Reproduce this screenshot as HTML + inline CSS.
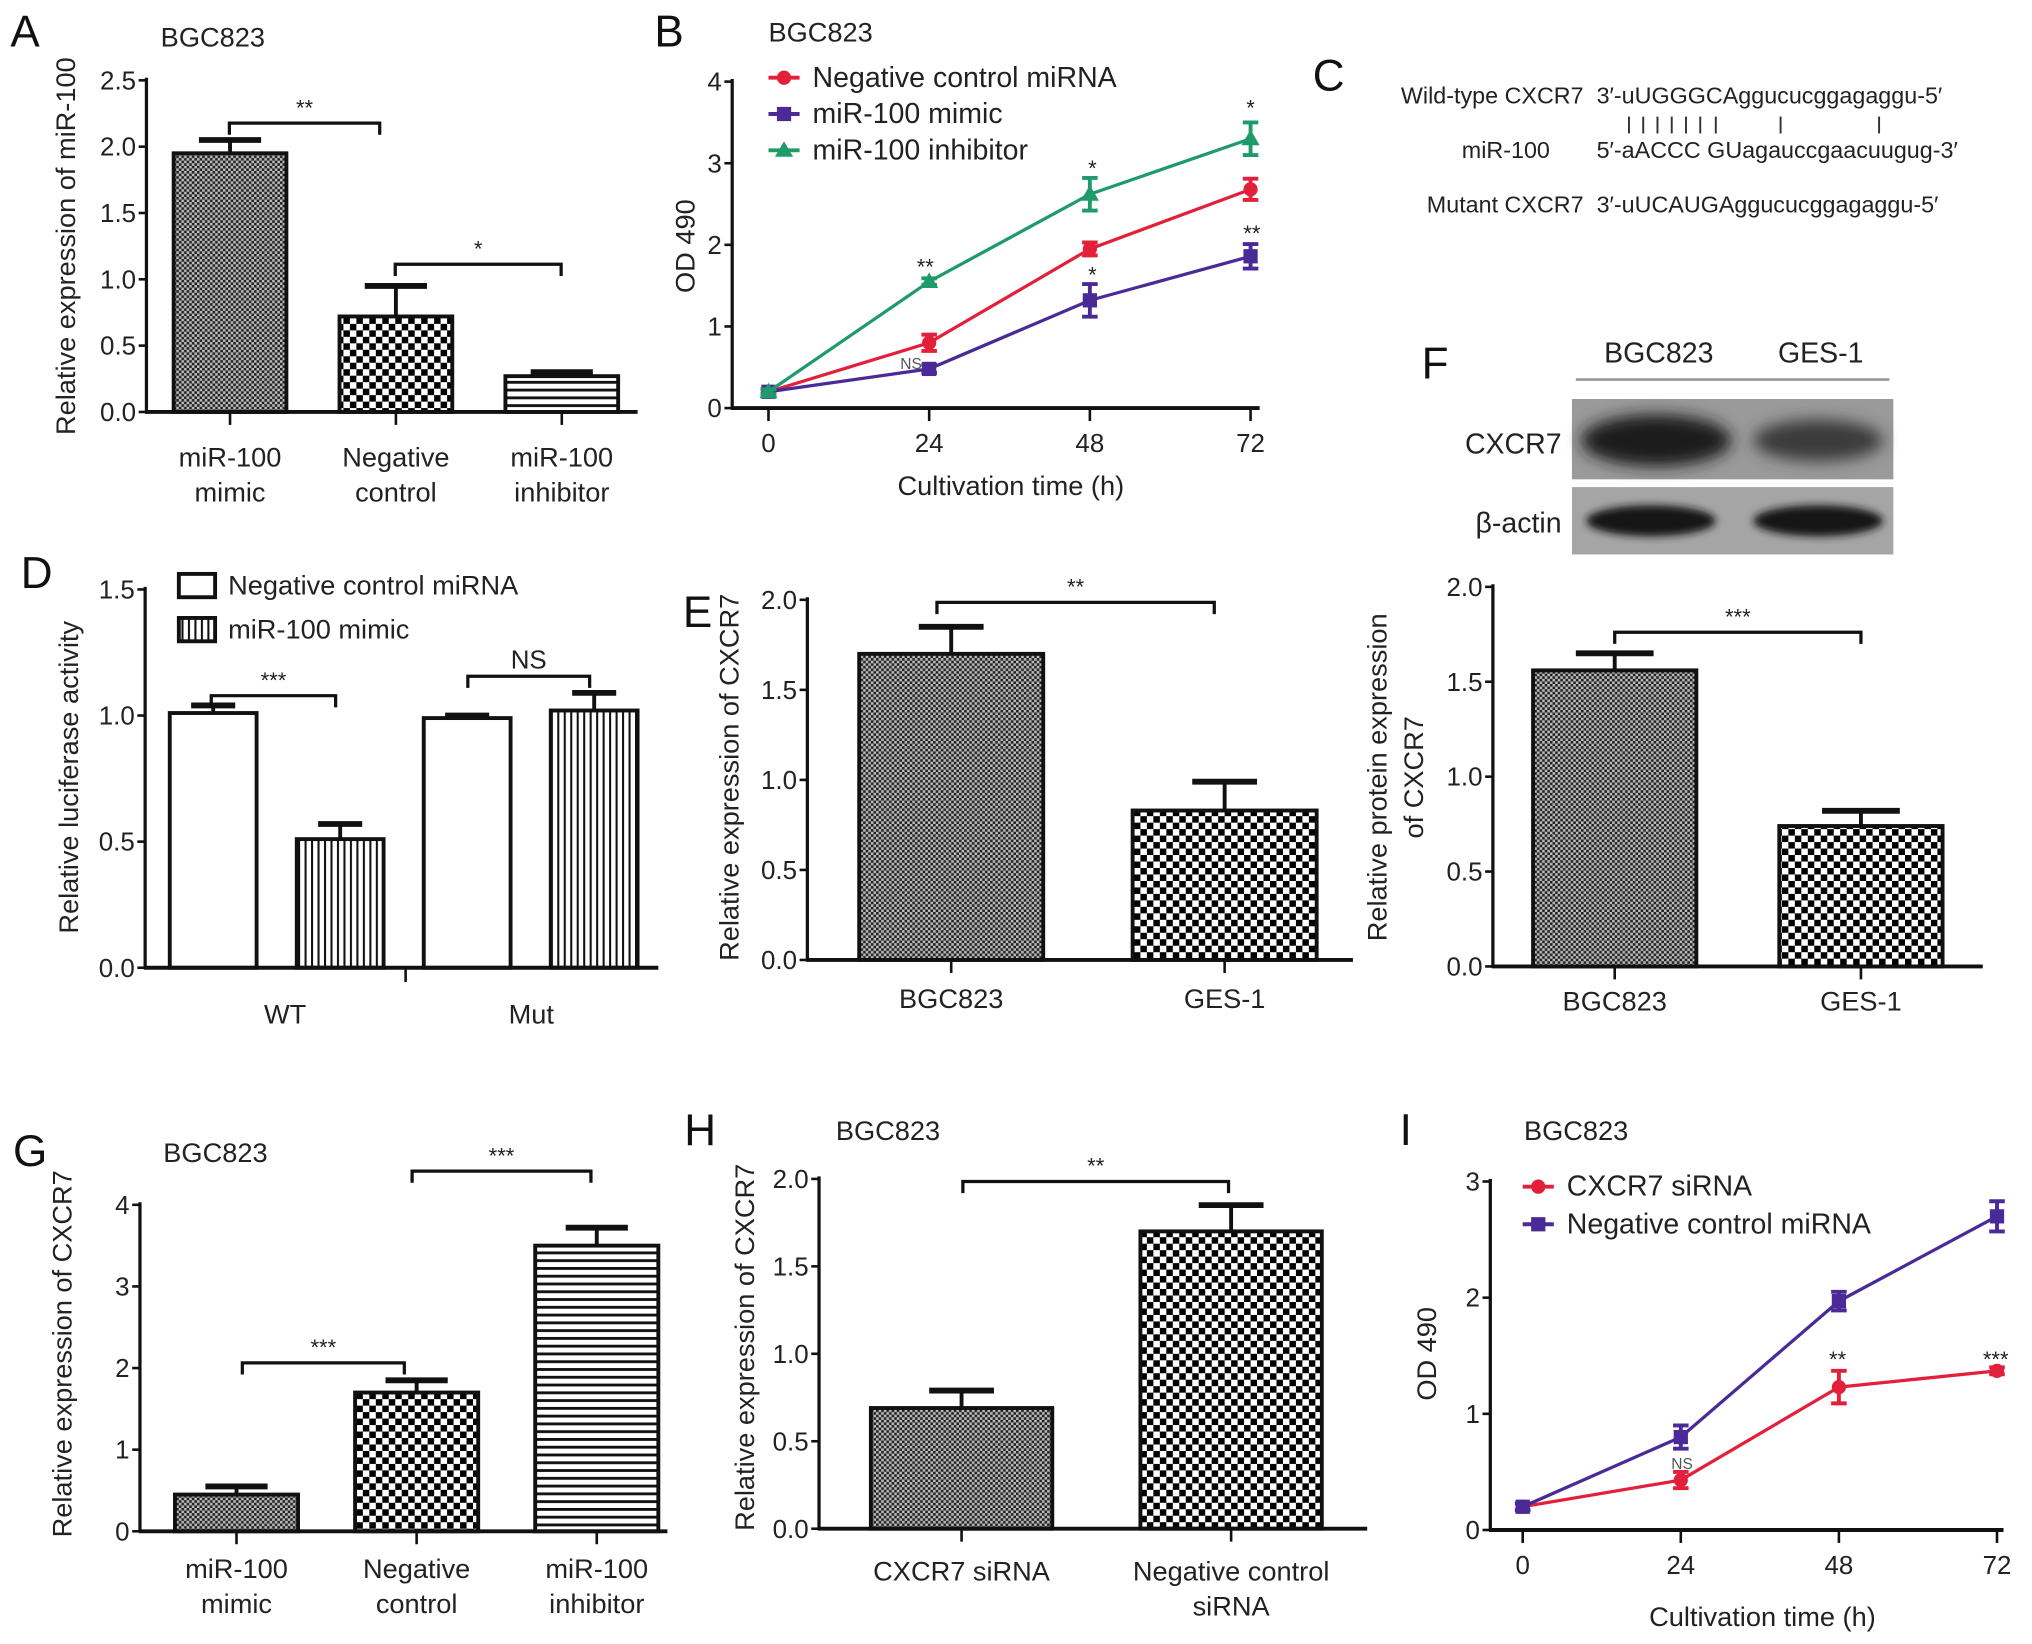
<!DOCTYPE html>
<html><head><meta charset="utf-8"><style>
html,body{margin:0;padding:0;background:#fff;}
svg{display:block;font-family:"Liberation Sans",sans-serif;}
</style></head><body>
<svg id="fig" xmlns="http://www.w3.org/2000/svg" width="2032" height="1644" viewBox="0 0 1568 1269" preserveAspectRatio="none">
<defs>
<pattern id="pFine" width="4" height="4" patternUnits="userSpaceOnUse"><rect width="4" height="4" fill="#bbb"/><rect width="2" height="2" fill="#222"/><rect x="2" y="2" width="2" height="2" fill="#222"/></pattern>
<pattern id="pCheck" width="10" height="10" patternUnits="userSpaceOnUse"><rect width="10" height="10" fill="#fff"/><rect width="5" height="5" fill="#000"/><rect x="5" y="5" width="5" height="5" fill="#000"/></pattern>
<pattern id="pH" width="6" height="6" patternUnits="userSpaceOnUse"><rect width="6" height="6" fill="#fff"/><rect width="6" height="2.2" fill="#111"/></pattern>
<pattern id="pV" width="5" height="5" patternUnits="userSpaceOnUse"><rect width="5" height="5" fill="#fff"/><rect width="1.6" height="5" fill="#111"/></pattern>
<filter id="blur" x="-20%" y="-50%" width="140%" height="200%"><feGaussianBlur stdDeviation="6"/></filter>
<filter id="blur2" x="-20%" y="-50%" width="140%" height="200%"><feGaussianBlur stdDeviation="3"/></filter>
</defs>
</svg>
<script>
// ---- data ----
const aCats = [["miR-100","mimic"],["Negative","control"],["miR-100","inhibitor"]];
const aVals = [1.95, 0.72, 0.27];
const aErrs = [0.10, 0.23, 0.03];
const aTicks = [0, 0.5, 1.0, 1.5, 2.0, 2.5];

const bHours = [0, 24, 48, 72];
const bNC = [0.2, 0.8, 1.95, 2.68];
const bNCErr = [0.03, 0.1, 0.08, 0.13];
const bMimic = [0.2, 0.48, 1.32, 1.86];
const bMimicErr = [0.03, 0.05, 0.2, 0.15];
const bInh = [0.2, 1.55, 2.62, 3.3];
const bInhErr = [0.03, 0.04, 0.2, 0.2];
const bTicks = [0, 1, 2, 3, 4];

const dGroups = ["WT", "Mut"];
const dNC = [1.01, 0.99];
const dNCErr = [0.03, 0.01];
const dMimic = [0.51, 1.02];
const dMimicErr = [0.06, 0.07];
const dTicks = [0, 0.5, 1.0, 1.5];

const eCats = [["BGC823"],["GES-1"]];
const eVals = [1.70, 0.83];
const eErrs = [0.15, 0.16];
const eTicks = [0, 0.5, 1.0, 1.5, 2.0];

const fCats = [["BGC823"],["GES-1"]];
const fVals = [1.56, 0.74];
const fErrs = [0.09, 0.08];
const fTicks = [0, 0.5, 1.0, 1.5, 2.0];

const gCats = [["miR-100","mimic"],["Negative","control"],["miR-100","inhibitor"]];
const gVals = [0.45, 1.70, 3.50];
const gErrs = [0.10, 0.15, 0.22];
const gTicks = [0, 1, 2, 3, 4];

const hCats = [["CXCR7 siRNA"],["Negative control","siRNA"]];
const hVals = [0.69, 1.70];
const hErrs = [0.10, 0.15];
const hTicks = [0, 0.5, 1.0, 1.5, 2.0];

const iHours = [0, 24, 48, 72];
const iSi = [0.2, 0.43, 1.23, 1.37];
const iSiErr = [0.03, 0.07, 0.14, 0.03];
const iNC = [0.2, 0.8, 1.97, 2.7];
const iNCErr = [0.03, 0.1, 0.08, 0.13];
const iTicks = [0, 1, 2, 3];

// ---- helpers ----
const NS = 'http://www.w3.org/2000/svg';
const svg = document.getElementById('fig');
function mk(tag, attrs, name, parent) {
  const el = document.createElementNS(NS, tag);
  for (const k in attrs) el.setAttribute(k, attrs[k]);
  
  
  (parent || svg).appendChild(el);
  return el;
}
function txt(x, y, s, size, name, anchor, extra) {
  const a = Object.assign({x: x, y: y, 'font-size': size, 'text-anchor': anchor || 'middle', fill: '#222'}, extra || {});
  const el = mk('text', a, name);
  el.textContent = s;
  return el;
}
function line(x1, y1, x2, y2, w, name, col) {
  return mk('line', {x1, y1, x2, y2, stroke: col || '#111', 'stroke-width': w}, name);
}
function bracket(x1, x2, y, label, name) {
  mk('path', {d: `M${x1},${y+9} V${y} H${x2} V${y+9}`, fill: 'none', stroke: '#111', 'stroke-width': 2.5}, name);
  txt((x1+x2)/2, y-6, label, label === 'NS' ? 20 : 17, name + '-label');
}
function yAxis(c, ticks, fmt) {
  const g = mk('g', {}, c.id + '-y-axis');
  mk('line', {x1: c.ax, y1: c.y0 + 1, x2: c.ax, y2: c.yTop - 2, stroke: '#111', 'stroke-width': 2.5}, c.id + '-y-axis-line', g);
  ticks.forEach(t => {
    const y = c.ys(t);
    mk('line', {x1: c.ax - 6, y1: y, x2: c.ax, y2: y, stroke: '#111', 'stroke-width': 2}, c.id + '-y-tick', g);
    txt(c.ax - 8, y + 7, fmt(t), 20, c.id + '-y-tick-label', 'end', {}, g);
  });
}
function scaleY(y0, yTop, max) { return v => y0 - v * (y0 - yTop) / max; }

function barChart(c, cats, vals, errs, ticks, fills, fmt) {
  c.ys = scaleY(c.y0, c.yTop, c.max);
  yAxis(c, ticks, fmt);
  vals.forEach((v, i) => {
    const x = c.ax + c.off + i * c.pitch, cx = x + c.bw / 2;
    const top = c.ys(v), et = c.ys(v + errs[i]);
    mk('line', {x1: cx, y1: top, x2: cx, y2: et, stroke: '#111', 'stroke-width': 3}, c.id + '-error-bar');
    mk('line', {x1: cx - c.cap, y1: et, x2: cx + c.cap, y2: et, stroke: '#111', 'stroke-width': 4.5}, c.id + '-error-cap');
    mk('rect', {x: x, y: top, width: c.bw, height: c.y0 - top, fill: fills[i], stroke: '#111', 'stroke-width': 3}, c.id + '-bar-' + i);
    mk('line', {x1: cx, y1: c.y0, x2: cx, y2: c.y0 + 10, stroke: '#111', 'stroke-width': 2}, c.id + '-x-tick');
    cats[i].forEach((s, k) => txt(cx, c.labY + k * 27, s, 21, c.id + '-x-label'));
  });
  mk('line', {x1: c.ax - 1, y1: c.y0, x2: c.xEnd, y2: c.y0, stroke: '#111', 'stroke-width': 3}, c.id + '-x-axis');
}

function lineChart(c, hours, series, ticks) {
  c.ys = scaleY(c.y0, c.yTop, c.max);
  const xs = h => c.x0 + h * (c.x72 - c.x0) / 72;
  yAxis(c, ticks, t => String(t));
  mk('line', {x1: c.ax - 1, y1: c.y0, x2: c.xEnd, y2: c.y0, stroke: '#111', 'stroke-width': 3}, c.id + '-x-axis');
  hours.forEach(h => {
    mk('line', {x1: xs(h), y1: c.y0, x2: xs(h), y2: c.y0 + 10, stroke: '#111', 'stroke-width': 2}, c.id + '-x-tick');
    txt(xs(h), c.y0 + 34, String(h), 20, c.id + '-x-tick-label');
  });
  series.forEach(s => {
    const pts = s.vals.map((v, i) => xs(hours[i]) + ',' + c.ys(v)).join(' ');
    mk('polyline', {points: pts, fill: 'none', stroke: s.col, 'stroke-width': 2.5}, c.id + '-line-' + s.key);
    s.vals.forEach((v, i) => {
      const x = xs(hours[i]), y1 = c.ys(v + s.err[i]), y2 = c.ys(v - s.err[i]);
      mk('path', {d: `M${x},${y1} V${y2} M${x-6},${y1} H${x+6} M${x-6},${y2} H${x+6}`, stroke: s.col, 'stroke-width': 3, fill: 'none'}, c.id + '-error-' + s.key);
      marker(s.shape, x, c.ys(v), s.col, c.id + '-point-' + s.key);
    });
  });
}
function marker(shape, x, y, col, name) {
  if (shape === 'circle') mk('circle', {cx: x, cy: y, r: 5.5, fill: col}, name);
  else if (shape === 'square') mk('rect', {x: x - 5.5, y: y - 5.5, width: 11, height: 11, fill: col}, name);
  else mk('path', {d: `M${x},${y-7} L${x+7},${y+5} L${x-7},${y+5} Z`, fill: col}, name);
}
function legendLine(x, y, shape, col, label, name) {
  mk('line', {x1: x, y1: y, x2: x + 24, y2: y, stroke: col, 'stroke-width': 3}, name + '-line');
  marker(shape, x + 12, y, col, name + '-marker');
  txt(x + 34, y + 7, label, 22, name + '-text', 'start');
}
function letter(x, y, s) { txt(x, y, s, 34, 'panel-label-' + s, 'start', {fill: '#111'}); }
function yTitle(x, y, s, name) { txt(0, 0, s, 21, name, 'middle', {transform: `translate(${x},${y}) rotate(-90)`}); }
const RED = '#e3203a', PUR = '#4a2a97', GRN = '#1f9b6b';
const f1 = v => v.toFixed(1);

// ---- Panel A ----
letter(8, 36, 'A');
txt(124, 36, 'BGC823', 21, 'a-title', 'start');
barChart({id: 'a', ax: 113, y0: 318, yTop: 62, max: 2.5, off: 21, pitch: 128, bw: 87, cap: 24, xEnd: 492, labY: 360},
  aCats, aVals, aErrs, aTicks, ['url(#pFine)', 'url(#pCheck)', 'url(#pH)'], f1);
yTitle(58, 190, 'Relative expression of miR-100', 'a-y-axis-title');
bracket(177, 293, 95, '**', 'a-bracket-1');
bracket(305, 433, 204, '*', 'a-bracket-2');

// ---- Panel B ----
letter(505, 36, 'B');
txt(593, 32, 'BGC823', 21, 'b-title', 'start');
lineChart({id: 'b', ax: 565, y0: 315, yTop: 63, max: 4, x0: 593, x72: 965, xEnd: 972}, bHours, [
  {key: 'nc', vals: bNC, err: bNCErr, col: RED, shape: 'circle'},
  {key: 'mimic', vals: bMimic, err: bMimicErr, col: PUR, shape: 'square'},
  {key: 'inhibitor', vals: bInh, err: bInhErr, col: GRN, shape: 'triangle'}
], bTicks);
yTitle(536, 190, 'OD 490', 'b-y-axis-title');
txt(780, 382, 'Cultivation time (h)', 21, 'b-x-axis-title');
legendLine(593, 60, 'circle', RED, 'Negative control miRNA', 'b-legend-nc');
legendLine(593, 88, 'square', PUR, 'miR-100 mimic', 'b-legend-mimic');
legendLine(593, 116, 'triangle', GRN, 'miR-100 inhibitor', 'b-legend-inhibitor');
txt(714, 212, '**', 17, 'b-sig-24');
txt(703, 285, 'NS', 12, 'b-ns-24', 'middle', {fill: '#555'});
txt(843, 136, '*', 17, 'b-sig-48-inh');
txt(843, 218, '*', 17, 'b-sig-48-mimic');
txt(965, 89, '*', 17, 'b-sig-72-inh');
txt(966, 186, '**', 17, 'b-sig-72-mimic');

// ---- Panel C ----
letter(1013, 70, 'C');
const cLab = ['Wild-type CXCR7', 'miR-100', 'Mutant CXCR7'];
const cSeq = ['3\u2032-uUGGGCAggucucggagaggu-5\u2032', '5\u2032-aACCC GUagauccgaacuugug-3\u2032', '3\u2032-uUCAUGAggucucggagaggu-5\u2032'];
const cY = [80, 122, 164];
cLab.forEach((s, i) => txt(i === 1 ? 1162 : 1222, cY[i], s, 18, 'c-row-label', i === 1 ? 'middle' : 'end'));
cSeq.forEach((s, i) => txt(1232, cY[i], s, 18, 'c-sequence', 'start'));
[1257, 1268, 1279, 1290, 1301, 1312, 1324, 1374, 1450].forEach(x => line(x, 90, x, 103, 1.5, 'c-pair-line', '#333'));

// ---- Panel F blot ----
letter(1097, 292, 'F');
txt(1280, 280, 'BGC823', 22, 'f-blot-lane-bgc823');
txt(1405, 280, 'GES-1', 22, 'f-blot-lane-ges1');
line(1216, 293, 1458, 293, 2, 'f-blot-header-line', '#999');
mk('rect', {x: 1213, y: 308, width: 248, height: 62, fill: '#9a9a9a'}, 'f-blot-cxcr7');
mk('ellipse', {cx: 1278, cy: 340, rx: 58, ry: 20, fill: '#1e1e1e', filter: 'url(#blur)'}, 'f-band-cxcr7-bgc823');
mk('ellipse', {cx: 1403, cy: 340, rx: 50, ry: 16, fill: '#3a3a3a', filter: 'url(#blur)'}, 'f-band-cxcr7-ges1');
mk('rect', {x: 1213, y: 376, width: 248, height: 52, fill: '#a5a5a5'}, 'f-blot-actin');
mk('ellipse', {cx: 1274, cy: 402, rx: 50, ry: 12, fill: '#151515', filter: 'url(#blur2)'}, 'f-band-actin-bgc823');
mk('ellipse', {cx: 1403, cy: 402, rx: 50, ry: 12, fill: '#151515', filter: 'url(#blur2)'}, 'f-band-actin-ges1');
txt(1205, 350, 'CXCR7', 22, 'f-blot-label-cxcr7', 'end');
txt(1205, 411, '\u03b2-actin', 22, 'f-blot-label-actin', 'end');

// ---- Panel F chart ----
barChart({id: 'f', ax: 1152, y0: 746, yTop: 453, max: 2.0, off: 31, pitch: 190, bw: 126, cap: 30, xEnd: 1530, labY: 780},
  fCats, fVals, fErrs, fTicks, ['url(#pFine)', 'url(#pCheck)'], f1);
yTitle(1070, 600, 'Relative protein expression', 'f-y-axis-title-1');
yTitle(1098, 600, 'of CXCR7', 'f-y-axis-title-2');
bracket(1246, 1436, 488, '***', 'f-bracket');

// ---- Panel D ----
letter(16, 454, 'D');
const dc = {id: 'd', ax: 112, y0: 747, yTop: 455, max: 1.5};
dc.ys = scaleY(dc.y0, dc.yTop, dc.max);
yAxis(dc, dTicks, f1);
const dPitchG = 196, dBw = 67;
dGroups.forEach((gname, gi) => {
  [[dNC, dNCErr, '#fff'], [dMimic, dMimicErr, 'url(#pV)']].forEach((s, si) => {
    const x = 131 + gi * dPitchG + si * 98, cx = x + dBw / 2;
    const v = s[0][gi], top = dc.ys(v), et = dc.ys(v + s[1][gi]);
    line(cx, top, cx, et, 3, 'd-error-bar');
    line(cx - 17, et, cx + 17, et, 4.5, 'd-error-cap');
    mk('rect', {x: x, y: top, width: dBw, height: dc.y0 - top, fill: s[2], stroke: '#111', 'stroke-width': 3}, 'd-bar-' + gname + '-' + si);
  });
  txt(220 + gi * 190, 790, gname, 21, 'd-x-label');
});
line(111, 747, 508, 747, 3, 'd-x-axis');
line(313, 747, 313, 758, 2, 'd-x-tick');
yTitle(60, 600, 'Relative luciferase activity', 'd-y-axis-title');
mk('rect', {x: 138, y: 443, width: 28, height: 18, fill: '#fff', stroke: '#111', 'stroke-width': 3}, 'd-legend-nc-swatch');
txt(176, 459, 'Negative control miRNA', 21, 'd-legend-nc-text', 'start');
mk('rect', {x: 138, y: 477, width: 28, height: 18, fill: 'url(#pV)', stroke: '#111', 'stroke-width': 3}, 'd-legend-mimic-swatch');
txt(176, 493, 'miR-100 mimic', 21, 'd-legend-mimic-text', 'start');
bracket(163, 259, 537, '***', 'd-bracket-wt');
bracket(361, 455, 522, 'NS', 'd-bracket-mut');

// ---- Panel E ----
letter(527, 484, 'E');
barChart({id: 'e', ax: 623, y0: 741, yTop: 463, max: 2.0, off: 40, pitch: 211, bw: 142, cap: 25, xEnd: 1044, labY: 778},
  eCats, eVals, eErrs, eTicks, ['url(#pFine)', 'url(#pCheck)'], f1);
yTitle(570, 600, 'Relative expression of CXCR7', 'e-y-axis-title');
bracket(723, 937, 465, '**', 'e-bracket');

// ---- Panel G ----
letter(10, 900, 'G');
txt(126, 897, 'BGC823', 21, 'g-title', 'start');
barChart({id: 'g', ax: 108, y0: 1182, yTop: 930, max: 4, off: 27, pitch: 139, bw: 95, cap: 24, xEnd: 515, labY: 1218},
  gCats, gVals, gErrs, gTicks, ['url(#pFine)', 'url(#pCheck)', 'url(#pH)'], t => String(t));
yTitle(55, 1045, 'Relative expression of CXCR7', 'g-y-axis-title');
bracket(187, 312, 1052, '***', 'g-bracket-1');
bracket(318, 456, 904, '***', 'g-bracket-2');

// ---- Panel H ----
letter(528, 884, 'H');
txt(645, 880, 'BGC823', 21, 'h-title', 'start');
barChart({id: 'h', ax: 632, y0: 1180, yTop: 910, max: 2.0, off: 40, pitch: 208, bw: 140, cap: 25, xEnd: 1055, labY: 1220},
  hCats, hVals, hErrs, hTicks, ['url(#pFine)', 'url(#pCheck)'], f1);
yTitle(582, 1040, 'Relative expression of CXCR7', 'h-y-axis-title');
bracket(743, 948, 912, '**', 'h-bracket');

// ---- Panel I ----
letter(1080, 884, 'I');
txt(1176, 880, 'BGC823', 21, 'i-title', 'start');
lineChart({id: 'i', ax: 1150, y0: 1181, yTop: 912, max: 3, x0: 1175, x72: 1541, xEnd: 1546}, iHours, [
  {key: 'sirna', vals: iSi, err: iSiErr, col: RED, shape: 'circle'},
  {key: 'nc', vals: iNC, err: iNCErr, col: PUR, shape: 'square'}
], iTicks);
yTitle(1108, 1045, 'OD 490', 'i-y-axis-title');
txt(1360, 1255, 'Cultivation time (h)', 21, 'i-x-axis-title');
legendLine(1175, 916, 'circle', RED, 'CXCR7 siRNA', 'i-legend-sirna');
legendLine(1175, 945, 'square', PUR, 'Negative control miRNA', 'i-legend-nc');
txt(1418, 1055, '**', 17, 'i-sig-48');
txt(1540, 1055, '***', 17, 'i-sig-72');
txt(1298, 1134, 'NS', 12, 'i-ns-24', 'middle', {fill: '#555'});
</script>
</body></html>
